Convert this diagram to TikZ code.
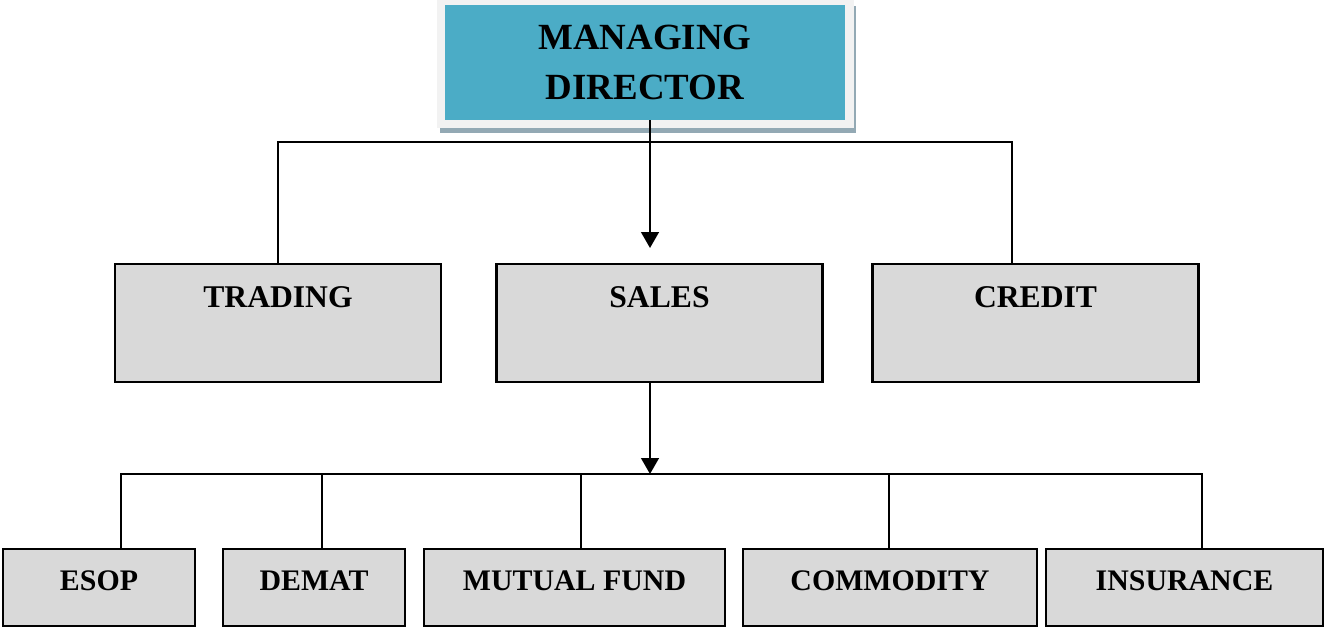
\documentclass[tikz,border=0pt]{standalone}
\usepackage{fontspec}
\setmainfont{Liberation Serif}
\usetikzlibrary{arrows.meta,backgrounds}
\definecolor{mdBlue}{HTML}{4BACC6}
\definecolor{mdFrame}{HTML}{F2F2F2}
\definecolor{mdShadow}{HTML}{93A9B4}
\definecolor{boxGray}{HTML}{D9D9D9}

\begin{document}
\begin{tikzpicture}
[x=0.02cm,y=-0.02cm,
  lineDecorate/.style={-,line width=1.1pt},%
  arrowDecorate/.style={-{Triangle[length=9pt,width=10pt]},line width=1.2pt},%
  headDecorate/.style={fill=mdBlue,minimum width=8cm,minimum height=2.3cm,align=center,
    font=\fontsize{21}{28}\selectfont\bfseries},%
  midDecorate/.style={draw,fill=boxGray,line width=1.6pt,minimum width=6.52cm,inner sep=0pt,
    text height=0.86cm,text depth=1.5cm,font=\fontsize{18}{22}\selectfont\bfseries},%
  subDecorate/.style={draw,fill=boxGray,line width=0.9pt,inner sep=0pt,
    text height=0.82cm,text depth=0.72cm,font=\fontsize{17}{20}\selectfont\bfseries}]
\useasboundingbox (0,0) rectangle (1324,628);
%% top box
\node (md) at (645,62.5) [headDecorate] {MANAGING\\DIRECTOR};
\begin{scope}[on background layer]
  \fill[mdShadow] ([shift={(-5,1)}]md.north west) rectangle ([shift={(11,13)}]md.south east);
  \fill[mdFrame] ([shift={(-8,-5)}]md.north west) rectangle ([shift={(9,8)}]md.south east);
\end{scope}
%% departments
\foreach \nodename/\x/\txt in {trading/278/TRADING, sales/659.5/SALES, credit/1035.5/CREDIT}
{
  \node (\nodename) at (\x,323) [midDecorate] {\txt};
}
%% sales sections
\foreach \nodename/\x/\w/\txt in {esop/99/3.84/ESOP, demat/314/3.64/DEMAT,
  mutual/574.5/6.02/MUTUAL FUND, commodity/890/5.88/COMMODITY,
  insurance/1184.5/5.54/INSURANCE}
{
  \node (\nodename) at (\x,587.5) [subDecorate,minimum width=\w cm] {\txt};
}
%% edges or lines
\coordinate (salesIn) at (650,248);
\coordinate (mdBus) at (650,142);
\coordinate (subBus) at (650,474);
\draw[arrowDecorate] (md.south -| salesIn) -- (salesIn);
\draw[lineDecorate] (trading.north) |- (mdBus) -| (credit.north -| 1012,0);
\draw[arrowDecorate] (sales.south -| subBus) -- (subBus);
\draw[lineDecorate] (esop.north -| 121,0) |- (subBus) -| (insurance.north -| 1202,0);
\foreach \nodename/\x in {demat/322, mutual/581, commodity/889}
{
  \draw[lineDecorate] (subBus -| \x,0) -- (\nodename.north -| \x,0);
}
\end{tikzpicture}
\end{document}
